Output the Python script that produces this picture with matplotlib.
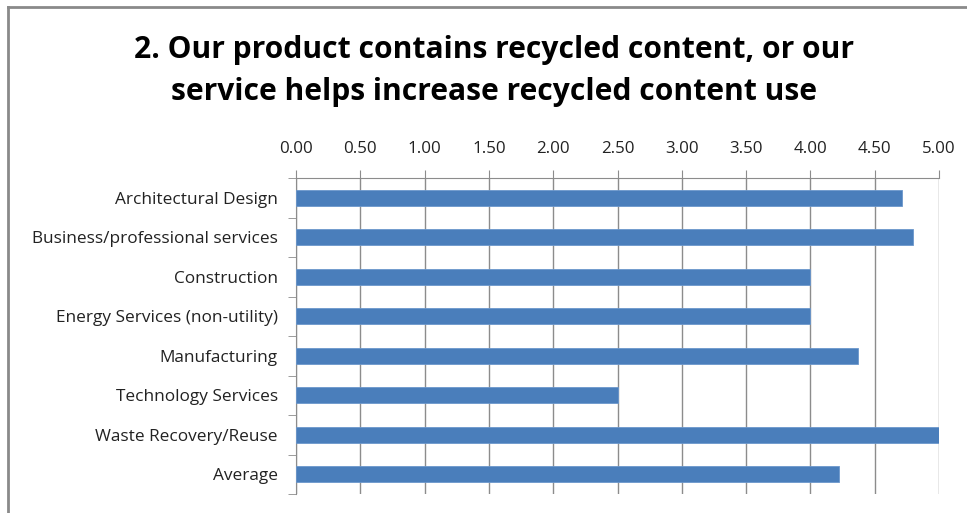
import matplotlib.pyplot as plt
from matplotlib.lines import Line2D

categories = [
    "Architectural Design",
    "Business/professional services",
    "Construction",
    "Energy Services (non-utility)",
    "Manufacturing",
    "Technology Services",
    "Waste Recovery/Reuse",
    "Average",
]
scores = [4.71, 4.80, 4.00, 4.00, 4.37, 2.50, 5.00, 4.22]
x_ticks = [0.0, 0.5, 1.0, 1.5, 2.0, 2.5, 3.0, 3.5, 4.0, 4.5, 5.0]

title = "2. Our product contains recycled content, or our\nservice helps increase recycled content use"

plt.rcParams['font.family'] = ['Open Sans', 'DejaVu Sans']
grid_color = '#8c8c8c'

fig = plt.figure(figsize=(9.67, 5.13), dpi=100)
ax = fig.add_axes([296 / 967, 1 - 494 / 513, 643 / 967, 316 / 513])

pos = list(range(len(categories)))
ax.barh(pos, scores, height=0.41, color='#4A7EBB', edgecolor='#6b97cc', linewidth=0.6, zorder=3)

ax.set_xlim(0, 5)
ax.set_ylim(len(categories) - 0.5, -0.5)
ax.xaxis.tick_top()
ax.set_xticks(x_ticks)
ax.set_xticklabels([f"{t:.2f}" for t in x_ticks], fontsize=12.2, color='#222222')
ax.tick_params(axis='x', length=6, color=grid_color, pad=9)
ax.grid(axis='x', color=grid_color, linewidth=1.0, zorder=0)

# category labels at the bar centres, tick marks at the boundaries
ax.set_yticks(pos)
ax.set_yticklabels(categories, fontsize=12.4, color='#222222')
ax.tick_params(axis='y', length=0, pad=13)
ax.set_yticks([p - 0.5 for p in pos] + [len(categories) - 0.5], minor=True)
ax.tick_params(axis='y', which='minor', length=6, color=grid_color)

for side in ['right', 'bottom']:
    ax.spines[side].set_visible(False)
for side in ['top', 'left']:
    ax.spines[side].set_color(grid_color)

fig.text(494 / 967, 1 - 71 / 513, title, ha='center', va='center',
         fontsize=21.6, fontweight='bold', linespacing=1.5)

# chart frame (top and left edges)
fig.add_artist(Line2D([8 / 967, 1], [1 - 7 / 513, 1 - 7 / 513], transform=fig.transFigure,
                      color='#8a8a8a', linewidth=2))
fig.add_artist(Line2D([8 / 967, 8 / 967], [0, 1 - 7 / 513], transform=fig.transFigure,
                      color='#8a8a8a', linewidth=2))

fig.savefig('out.png', dpi=100)
